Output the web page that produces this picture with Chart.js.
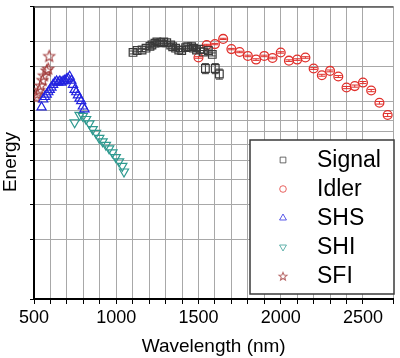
<!DOCTYPE html>
<html>
<head>
<meta charset="utf-8">
<script src="https://cdn.jsdelivr.net/npm/chart.js@4.4.1/dist/chart.umd.min.js"></script>
<style>
  html, body { margin: 0; padding: 0; background: #fff; }
  #wrap { width: 400px; height: 358px; }
</style>
</head>
<body>
<div id="wrap"><canvas id="energy"></canvas></div>
<script>
// wavelength (nm) / energy (arb. units, log axis)
var signalNm  = [1102, 1127, 1157, 1181, 1205, 1217, 1235, 1247, 1271, 1289, 1307, 1331, 1343, 1361,
                 1380, 1398, 1422, 1434, 1458, 1470, 1488, 1510, 1530, 1542, 1560, 1584, 1602, 1627];
var signalE   = [17.6, 18.0, 18.1, 18.5, 18.9, 19.2, 19.6, 19.9, 19.7, 19.9, 19.7, 19.2, 18.8, 18.5,
                 18.1, 18.0, 18.6, 18.8, 18.8, 18.5, 18.1, 18.3, 17.7, 14.6, 18.0, 17.2, 14.6, 13.7];
var signalErr = [0.3, 0.3, 0.3, 0.3, 0.3, 0.3, 0.3, 0.3, 0.3, 0.3, 0.3, 0.3, 0.3, 0.3,
                 0.3, 0.3, 0.3, 0.3, 0.3, 0.3, 0.3, 0.3, 0.3, 0.85, 0.3, 0.3, 0.85, 0.8];

var idlerNm  = [1500, 1550, 1600, 1650, 1700, 1750, 1800, 1850, 1900, 1950, 2000, 2050,
                2100, 2150, 2200, 2250, 2300, 2350, 2400, 2450, 2500, 2550, 2600, 2650];
var idlerE   = [16.6, 19.2, 19.4, 20.6, 18.3, 17.7, 16.9, 16.2, 16.9, 16.5, 17.6, 16.0,
                16.2, 16.6, 14.6, 13.5, 14.2, 13.3, 11.7, 11.9, 12.4, 11.3, 9.8, 8.5];
var idlerErr = [0.15, 0.15, 0.15, 0.15, 0.15, 0.15, 0.15, 0.15, 0.15, 0.15, 0.15, 0.15,
                0.15, 0.15, 0.15, 0.15, 0.15, 0.15, 0.15, 0.15, 0.15, 0.15, 0.15, 0.15];

var shsNm = [546, 556, 566, 577, 587, 596, 606, 616, 627, 637, 647, 657, 667, 677,
             687, 697, 707, 717, 727, 737, 747, 757, 767, 777, 787, 797, 807];
var shsE  = [9.3, 10.2, 10.5, 10.8, 11.1, 11.4, 11.7, 12.1, 12.4, 12.6, 12.4, 12.6, 12.4, 12.6,
             12.7, 12.9, 13.0, 13.3, 12.7, 12.1, 11.4, 11.1, 10.7, 10.3, 10.0, 9.4, 9.1];

var shiNm = [747, 777, 797, 817, 837, 857, 877, 897, 917, 937, 957, 977, 997, 1017, 1037, 1047];
var shiE  = [7.8, 8.5, 8.4, 8.1, 7.7, 7.2, 6.9, 6.5, 6.25, 6.0, 5.75, 5.5, 5.2, 4.95, 4.7, 4.4];

var sfiNm = [512, 520, 532, 540, 552, 560, 577, 586, 592];
var sfiE  = [10.5, 10.9, 11.4, 12.0, 12.8, 13.5, 14.3, 14.6, 16.9];

var xTickLabels = [500, 1000, 1500, 2000, 2500];

var FONT = 'Liberation Sans, Arial, Helvetica, sans-serif';

function pts(xs, ys) {
    return xs.map(function (x, i) { return { x: x, y: ys[i] }; });
}

// open five-point star, Chart.js only has an asterisk
function starImage(color, r) {
    var n = Math.ceil(r * 2 + 3);
    var c = document.createElement('canvas');
    c.width = c.height = n;
    var g = c.getContext('2d');
    g.beginPath();
    for (var i = 0; i < 10; i++) {
        var rr = i % 2 ? r * 0.45 : r;
        var a = -Math.PI / 2 + i * Math.PI / 5;
        g.lineTo(n / 2 + rr * Math.cos(a), n / 2 + 0.6 + rr * Math.sin(a));
    }
    g.closePath();
    g.strokeStyle = color;
    g.lineWidth = 1.1;
    g.stroke();
    return c;
}

var errorBars = {
    id: 'errorBars',
    afterDatasetsDraw: function (chart) {
        var ctx = chart.ctx, y = chart.scales.y;
        chart.data.datasets.forEach(function (ds, i) {
            if (!ds.errs) return;
            var meta = chart.getDatasetMeta(i);
            ctx.save();
            ctx.strokeStyle = ds.borderColor;
            ctx.lineWidth = 1;
            meta.data.forEach(function (p, j) {
                var v = ds.data[j].y, e = ds.errs[j];
                var y1 = y.getPixelForValue(v + e), y2 = y.getPixelForValue(v - e);
                ctx.beginPath();
                ctx.moveTo(p.x, y1); ctx.lineTo(p.x, y2);
                ctx.moveTo(p.x - 3.5, y1); ctx.lineTo(p.x + 3.5, y1);
                ctx.moveTo(p.x - 3.5, y2); ctx.lineTo(p.x + 3.5, y2);
                ctx.stroke();
            });
            ctx.restore();
        });
    }
};

var boxLegend = {
    id: 'boxLegend',
    afterDraw: function (chart) {
        var ctx = chart.ctx;
        var area = chart.chartArea;
        ctx.save();
        // top frame line
        ctx.strokeStyle = '#555';
        ctx.lineWidth = 1.5;
        ctx.beginPath();
        ctx.moveTo(area.left, area.top + 0.5);
        ctx.lineTo(area.right, area.top + 0.5);
        ctx.stroke();
        // y axis title
        ctx.translate(16, 162);
        ctx.rotate(-Math.PI / 2);
        ctx.font = '19px ' + FONT;
        ctx.fillStyle = '#000';
        ctx.textAlign = 'center';
        ctx.fillText('Energy', 0, 0);
        ctx.restore();

        ctx.save();
        ctx.fillStyle = '#fff';
        ctx.fillRect(250, 140, 144, 154);
        ctx.strokeStyle = '#3a3a3a';
        ctx.lineWidth = 1.5;
        ctx.strokeRect(250, 140, 144, 154);
        ctx.font = '23px ' + FONT;
        ctx.textBaseline = 'middle';
        chart.data.datasets.forEach(function (ds, i) {
            var yy = 160 + i * 29;
            ctx.globalAlpha = 0.75;
            ctx.strokeStyle = ds.borderColor;
            ctx.fillStyle = 'rgba(0,0,0,0)';
            ctx.lineWidth = 1;
            var style = ds.pointStyle;
            if (style instanceof HTMLCanvasElement) style = ds.legendImage;
            Chart.helpers.drawPoint(ctx, {
                pointStyle: style,
                radius: ds.pointRadius * 0.75,
                rotation: ds.pointRotation || 0,
                borderWidth: 1
            }, 283, yy);
            ctx.globalAlpha = 1;
            ctx.fillStyle = '#000';
            ctx.fillText(ds.label, 317, yy + 1);
        });
        ctx.restore();
    }
};

var ctx = document.getElementById('energy').getContext('2d');
var chart = new Chart(ctx, {
    type: 'scatter',
    data: {
        datasets: [{
            label: 'Signal',
            data: pts(signalNm, signalE),
            errs: signalErr,
            pointStyle: 'rect',
            pointRadius: 5.4,
            borderColor: '#3a3a3a',
            backgroundColor: 'rgba(0,0,0,0)',
            borderWidth: 1.2
        }, {
            label: 'Idler',
            data: pts(idlerNm, idlerE),
            errs: idlerErr,
            pointStyle: 'circle',
            pointRadius: 4.4,
            borderColor: '#e0302c',
            backgroundColor: 'rgba(0,0,0,0)',
            borderWidth: 1.3
        }, {
            label: 'SHS',
            data: pts(shsNm, shsE),
            pointStyle: 'triangle',
            pointRadius: 5.3,
            borderColor: '#2323e0',
            backgroundColor: 'rgba(0,0,0,0)',
            borderWidth: 1.2
        }, {
            label: 'SHI',
            data: pts(shiNm, shiE),
            pointStyle: 'triangle',
            pointRotation: 180,
            pointRadius: 5.3,
            borderColor: '#2f9a90',
            backgroundColor: 'rgba(0,0,0,0)',
            borderWidth: 1.2
        }, {
            label: 'SFI',
            data: pts(sfiNm, sfiE),
            pointStyle: starImage('#a13a3a', 5.8),
            legendImage: starImage('#a13a3a', 4.2),
            pointRadius: 5.5,
            borderColor: '#a13a3a',
            backgroundColor: 'rgba(0,0,0,0)',
            borderWidth: 1
        }]
    },
    options: {
        responsive: true,
        maintainAspectRatio: false,
        animation: false,
        layout: { padding: { top: 2, right: 3, left: 0, bottom: 0 } },
        plugins: {
            legend: { display: false },
            tooltip: { enabled: false }
        },
        scales: {
            x: {
                type: 'linear',
                min: 500,
                max: 2685,
                ticks: {
                    stepSize: 100,
                    autoSkip: false,
                    maxRotation: 0,
                    padding: 3,
                    color: '#000',
                    font: { family: FONT, size: 18 },
                    callback: function (v) {
                        var r = Math.round(Number(v));
                        return xTickLabels.indexOf(r) >= 0 ? String(r) : '';
                    }
                },
                grid: { color: '#a8a8a8', lineWidth: 1, tickLength: 5, tickColor: '#000' },
                border: { color: '#000', width: 2 },
                title: {
                    display: true,
                    text: 'Wavelength (nm)',
                    color: '#000',
                    font: { family: FONT, size: 19 },
                    padding: 0
                },
                afterFit: function (s) { s.height = 59; }
            },
            y: {
                type: 'logarithmic',
                min: 1,
                max: 30,
                ticks: { display: false },
                grid: { color: '#a8a8a8', lineWidth: 1, tickLength: 4, tickColor: '#000' },
                border: { color: '#000', width: 2 },
                afterFit: function (s) { s.width = 34; }
            }
        }
    },
    plugins: [errorBars, boxLegend]
});
</script>
</body>
</html>
